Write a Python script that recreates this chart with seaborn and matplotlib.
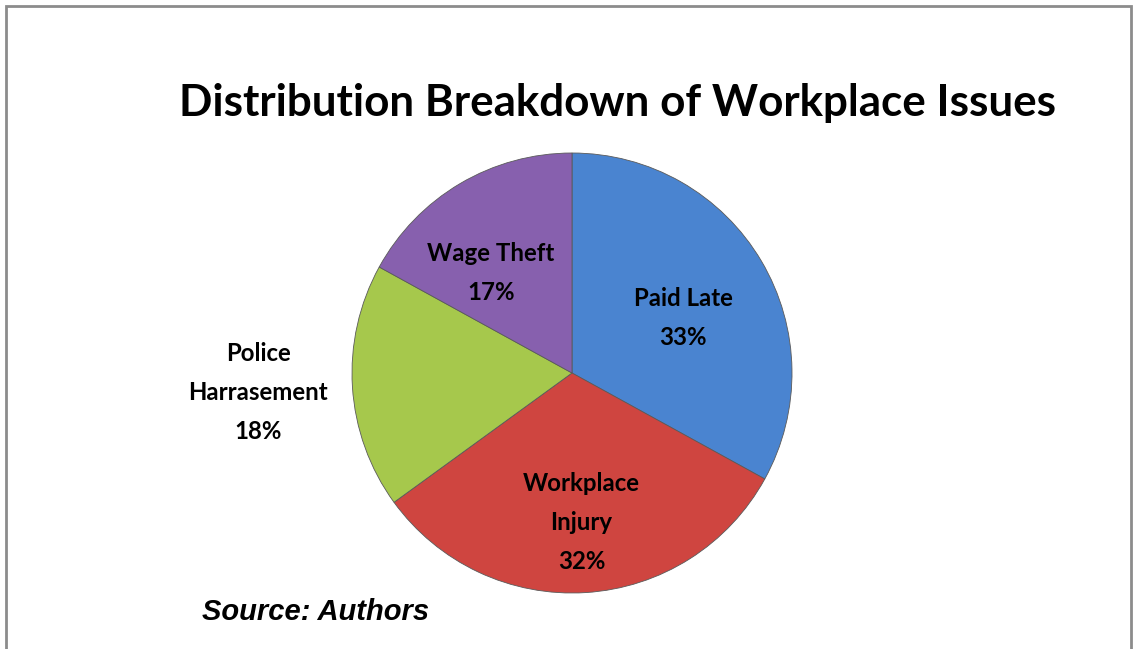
import matplotlib
matplotlib.use("Agg")
import matplotlib.pyplot as plt
import seaborn as sns
import numpy as np
from matplotlib.patches import Rectangle

# Datos del grafico
categorias = ["Paid Late", "Workplace Injury", "Police Harrasement", "Wage Theft"]
porcentajes = [33, 32, 18, 17]
etiquetas = ["Paid Late\n33%", "Workplace\nInjury\n32%", "Police\nHarrasement\n18%", "Wage Theft\n17%"]
colores = ["#4A84D0", "#CF4540", "#A6C84C", "#8760AE"]

sns.set_style("white")
plt.rcParams["font.family"] = ["Lato", "DejaVu Sans"]
plt.rcParams["text.color"] = "black"

fig = plt.figure(figsize=(11.36, 6.49), dpi=100)

# Marco gris alrededor de la figura
fig.patches.append(Rectangle((6 / 1136, -0.05), 1125 / 1136, 1.05 - 6 / 649,
                             transform=fig.transFigure, fill=False,
                             edgecolor="#8c8c8c", linewidth=2))

ax = fig.add_axes([352 / 1136, 56 / 649, 440 / 1136, 440 / 649])
wedges, _ = ax.pie(porcentajes, colors=colores, startangle=90, counterclock=False,
                   wedgeprops=dict(edgecolor="#5a5a5a", linewidth=0.6))

# Posicion de cada etiqueta: (fraccion del radio, ajuste de angulo)
ajustes = [(0.563, -4.2), (0.68, 0.0), (1.43, 0.0), (0.585, 8.4)]
for w, texto, (rf, da) in zip(wedges, etiquetas, ajustes):
    ang = np.deg2rad((w.theta1 + w.theta2) / 2 + da)
    ax.text(rf * np.cos(ang), rf * np.sin(ang), texto, ha="center", va="center",
            fontsize=17.3, fontweight="bold", linespacing=1.85, clip_on=False,
            color="black")

ax.set_xlim(-1, 1)
ax.set_ylim(-1, 1)
ax.set_aspect("equal")
ax.axis("off")

fig.text(0.5436, 1 - 103 / 649, "Distribution Breakdown of Workplace Issues",
         ha="center", va="center", fontsize=31.7, fontweight="bold", color="black")
fig.text(202 / 1136, 1 - 612 / 649, "Source: Authors", ha="left", va="center",
         fontsize=21, fontweight="bold", style="italic", color="black",
         family=["Liberation Sans", "DejaVu Sans"])

fig.savefig("out.png", dpi=100)
